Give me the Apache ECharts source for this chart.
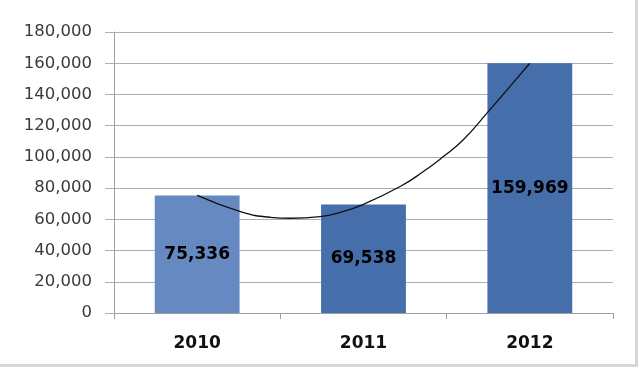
<!DOCTYPE html>
<html>
<head>
<meta charset="utf-8">
<script src="https://cdn.jsdelivr.net/npm/echarts@6/dist/echarts.min.js"></script>
<style>
html,body{margin:0;padding:0;background:#fff;}
#c{width:640px;height:369px;}
</style>
</head>
<body>
<div id="c"></div>
<script>
const categories = ['2010', '2011', '2012'];
const values = [75336, 69538, 159969];
const barColors = ['#6789C1', '#466EAA', '#466EAA'];
// trendline positions (category index units) and values
const trendX = [0, 0.26, 0.44, 0.56, 0.74, 0.86, 1.0, 1.22, 1.36, 1.48, 1.60, 1.75, 1.88, 2.0];
const trendY = [75300, 65000, 61300, 60700, 61800, 64500, 69600, 81000, 90600, 100200, 111000, 129000, 145000, 160000];

const chart = echarts.init(document.getElementById('c'), null, {renderer: 'canvas'});
const gridColor = '#ADADAD';
chart.setOption({
  animation: false,
  backgroundColor: '#fff',
  grid: {left: 114, right: 27, top: 32, bottom: 56, containLabel: false},
  xAxis: [{
    type: 'category',
    data: categories,
    axisLine: {lineStyle: {color: '#A0A0A0', width: 1}},
    axisTick: {show: true, length: 6, lineStyle: {color: '#A0A0A0'}},
    axisLabel: {margin: 22, color: '#111', fontFamily: 'DejaVu Sans', fontWeight: 'bold', fontSize: 17}
  }, {
    type: 'value', min: -0.5, max: 2.5, show: false
  }],
  yAxis: {
    type: 'value', min: 0, max: 180000, interval: 20000,
    axisLine: {show: true, onZero: false, lineStyle: {color: '#A0A0A0'}},
    axisTick: {show: true, length: 9, lineStyle: {color: gridColor}},
    splitLine: {show: true, lineStyle: {color: gridColor, width: 1}},
    axisLabel: {
      margin: 22, color: '#3A3A3A', fontFamily: 'DejaVu Sans', fontSize: 16.5,
      formatter: v => v.toLocaleString('en-US')
    }
  },
  series: [{
    type: 'bar',
    data: values.map((v, i) => ({value: v, itemStyle: {color: barColors[i]}})),
    barWidth: '51%',
    label: {
      show: true, position: 'inside', color: '#000',
      fontFamily: 'DejaVu Sans', fontWeight: 'bold', fontSize: 17,
      formatter: p => p.value.toLocaleString('en-US')
    }
  }, {
    type: 'line',
    xAxisIndex: 1,
    data: trendX.map((x, i) => [x, trendY[i]]),
    smooth: true,
    showSymbol: false,
    lineStyle: {color: '#111', width: 1.3},
    z: 5
  }],
  graphic: [
    {type: 'line', shape: {x1: 636.5, y1: 0, x2: 636.5, y2: 366}, style: {stroke: '#D6D6D6', lineWidth: 3}},
    {type: 'line', shape: {x1: 0, y1: 365.5, x2: 638, y2: 365.5}, style: {stroke: '#D6D6D6', lineWidth: 3}}
  ]
});
</script>
</body>
</html>
